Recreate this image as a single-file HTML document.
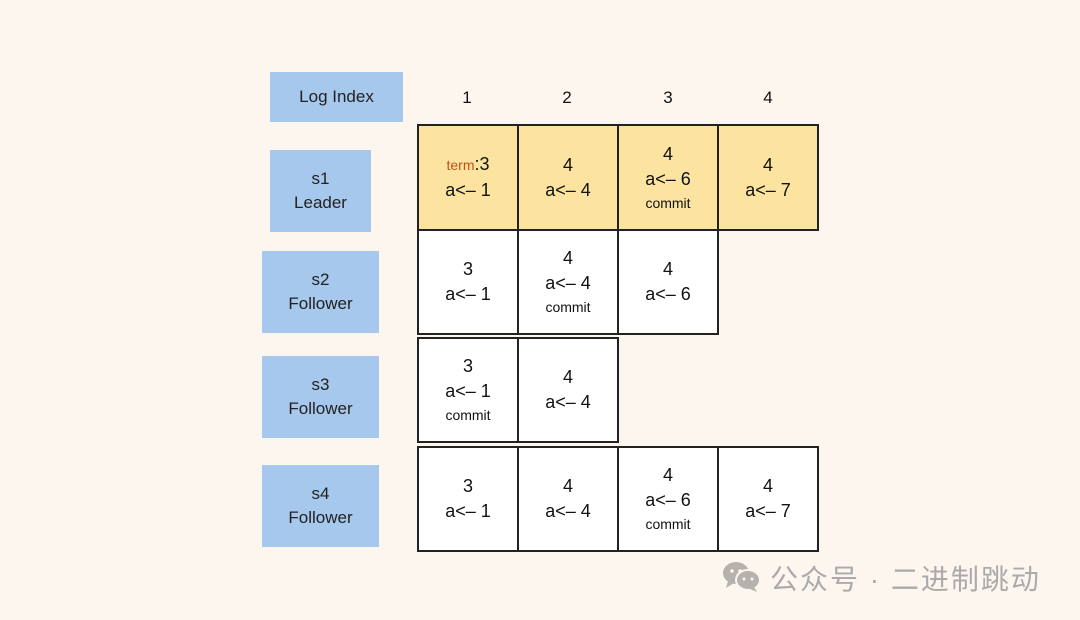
<!DOCTYPE html>
<html><head><meta charset="utf-8"><style>
html,body{margin:0;padding:0}
body{width:1080px;height:620px;background:#fdf6ee;position:relative;overflow:hidden;font-family:"Liberation Sans","Noto Sans CJK SC",sans-serif;color:#111}
.lab{position:absolute;background:#a6c8ec;display:flex;flex-direction:column;align-items:center;justify-content:center;font-size:17px;line-height:24px;color:#222}
.hd{position:absolute;top:88px;font-size:17px;width:100px;text-align:center}
.c{position:absolute;box-sizing:border-box;border:2px solid #222;background:#fff;display:flex;flex-direction:column;align-items:center;justify-content:center;font-size:18px;line-height:25px}
.y{background:#fce4a0}
.cm{font-size:14px;line-height:22px}
.t{color:#c0501a;font-size:14px}
.wm{position:absolute;left:770px;top:558px;font-size:28px;color:#aaa;letter-spacing:2px}
</style></head><body>
<div class="lab" style="left:270px;top:72px;width:133px;height:50px">Log Index</div>
<div class="hd" style="left:417px">1</div>
<div class="hd" style="left:517px">2</div>
<div class="hd" style="left:618px">3</div>
<div class="hd" style="left:718px">4</div>

<div class="lab" style="left:270px;top:150px;width:101px;height:82px"><div>s1</div><div>Leader</div></div>
<div class="lab" style="left:262px;top:251px;width:117px;height:82px"><div>s2</div><div>Follower</div></div>
<div class="lab" style="left:262px;top:356px;width:117px;height:82px"><div>s3</div><div>Follower</div></div>
<div class="lab" style="left:262px;top:465px;width:117px;height:82px"><div>s4</div><div>Follower</div></div>

<div class="c y" style="left:417px;top:124px;width:102px;height:107px"><div><span class="t">term</span>:3</div><div>a&lt;– 1</div></div>
<div class="c y" style="left:517px;top:124px;width:102px;height:107px"><div>4</div><div>a&lt;– 4</div></div>
<div class="c y" style="left:617px;top:124px;width:102px;height:107px"><div>4</div><div>a&lt;– 6</div><div class="cm">commit</div></div>
<div class="c y" style="left:717px;top:124px;width:102px;height:107px"><div>4</div><div>a&lt;– 7</div></div>

<div class="c" style="left:417px;top:229px;width:102px;height:106px"><div>3</div><div>a&lt;– 1</div></div>
<div class="c" style="left:517px;top:229px;width:102px;height:106px"><div>4</div><div>a&lt;– 4</div><div class="cm">commit</div></div>
<div class="c" style="left:617px;top:229px;width:102px;height:106px"><div>4</div><div>a&lt;– 6</div></div>

<div class="c" style="left:417px;top:337px;width:102px;height:106px"><div>3</div><div>a&lt;– 1</div><div class="cm">commit</div></div>
<div class="c" style="left:517px;top:337px;width:102px;height:106px"><div>4</div><div>a&lt;– 4</div></div>

<div class="c" style="left:417px;top:446px;width:102px;height:106px"><div>3</div><div>a&lt;– 1</div></div>
<div class="c" style="left:517px;top:446px;width:102px;height:106px"><div>4</div><div>a&lt;– 4</div></div>
<div class="c" style="left:617px;top:446px;width:102px;height:106px"><div>4</div><div>a&lt;– 6</div><div class="cm">commit</div></div>
<div class="c" style="left:717px;top:446px;width:102px;height:106px"><div>4</div><div>a&lt;– 7</div></div>

<svg style="position:absolute;left:722px;top:561px" width="40" height="32" viewBox="0 0 40 32">
<ellipse cx="14" cy="12" rx="13" ry="11" fill="#b5b2ae"/>
<path d="M6 20 L4 27 L12 22 Z" fill="#b5b2ae"/>
<ellipse cx="26" cy="19" rx="12" ry="10" fill="#b5b2ae" stroke="#fdf6ee" stroke-width="2"/>
<path d="M32 26 L35 31 L28 28 Z" fill="#b5b2ae"/>
<circle cx="10" cy="10" r="1.8" fill="#fdf6ee"/><circle cx="18" cy="10" r="1.8" fill="#fdf6ee"/>
<circle cx="22" cy="18" r="1.5" fill="#fdf6ee"/><circle cx="30" cy="18" r="1.5" fill="#fdf6ee"/>
</svg>
<div class="wm">公众号 · 二进制跳动</div>
</body></html>
